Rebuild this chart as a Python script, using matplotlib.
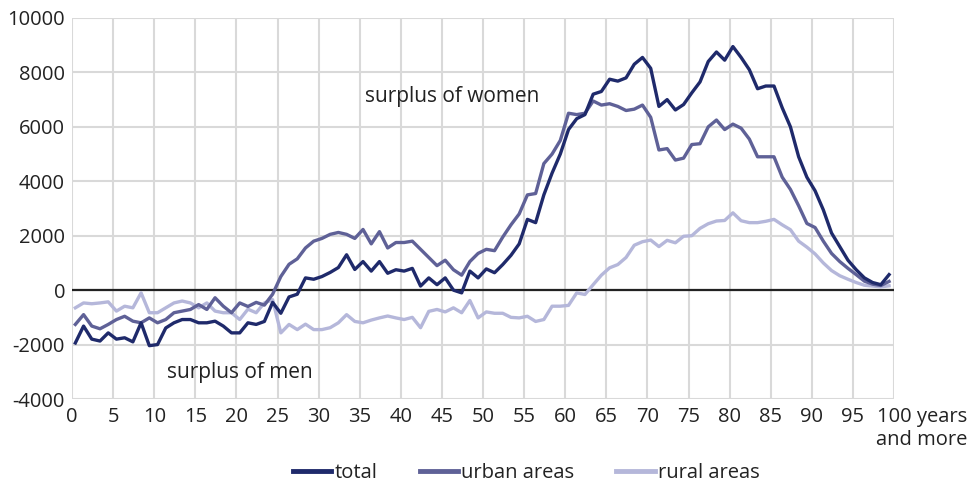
import numpy as np
import matplotlib
matplotlib.use("Agg")
import matplotlib.pyplot as plt

plt.rcParams['font.family'] = ['Open Sans', 'DejaVu Sans']

# surplus of women (+) / men (-) by single year of age
ages = np.arange(100)
total = [-1940, -1320, -1800, -1870, -1570, -1800, -1750, -1900, -1200, -2040,
         -2000, -1390, -1200, -1080, -1080, -1200, -1200, -1140, -1320, -1570,
         -1570, -1200, -1260, -1150, -450, -850, -250, -150, 450, 400,
         500, 650, 830, 1300, 760, 1050, 700, 1050, 620, 750,
         700, 800, 150, 450, 200, 450, 0, -100, 700, 450,
         780, 640, 940, 1280, 1700, 2600, 2480, 3500, 4300, 5000,
         5900, 6300, 6450, 7200, 7300, 7750, 7680, 7800, 8300, 8550,
         8150, 6750, 7000, 6620, 6820, 7250, 7650, 8400, 8750, 8450,
         8950, 8550, 8100, 7400, 7500, 7500, 6700, 6000, 4900, 4150,
         3650, 2950, 2100, 1600, 1100, 750, 450, 280, 200, 570]
urban = [-1260, -900, -1320, -1420, -1260, -1080, -960, -1140, -1200, -1020,
         -1200, -1080, -830, -770, -710, -530, -710, -280, -590, -830,
         -470, -600, -450, -550, -150, 500, 950, 1150, 1550, 1800,
         1900, 2050, 2120, 2050, 1900, 2230, 1700, 2150, 1550, 1750,
         1750, 1800, 1500, 1200, 900, 1100, 750, 550, 1050, 1350,
         1500, 1450, 1950, 2400, 2800, 3500, 3550, 4650, 5000, 5500,
         6500, 6450, 6500, 6950, 6800, 6850, 6750, 6600, 6650, 6800,
         6350, 5150, 5200, 4780, 4850, 5350, 5380, 6000, 6250, 5900,
         6100, 5950, 5550, 4900, 4900, 4900, 4150, 3700, 3100, 2450,
         2300, 1800, 1350, 1050, 800, 570, 330, 220, 170, 320]
rural = [-650, -470, -500, -470, -430, -770, -590, -650, -100, -830,
         -830, -650, -470, -400, -470, -650, -470, -770, -830, -830,
         -1080, -700, -830, -470, -350, -1570, -1260, -1450, -1250, -1450,
         -1450, -1380, -1200, -900, -1150, -1200, -1100, -1020, -950, -1020,
         -1080, -1000, -1380, -780, -710, -800, -650, -830, -380, -1020,
         -800, -850, -850, -1000, -1020, -960, -1150, -1080, -590, -590,
         -560, -100, -160, 200, 550, 820, 940, 1200, 1650, 1780,
         1840, 1600, 1830, 1740, 1980, 2000, 2270, 2440, 2540, 2560,
         2840, 2550, 2480, 2480, 2530, 2600, 2400, 2220, 1800, 1580,
         1330, 1000, 720, 530, 400, 280, 180, 150, 120, 160]

xticks = np.arange(0, 101, 5)
xlabels = [str(t) for t in xticks[:-1]] + ['']
yticks = np.arange(-4000, 10001, 2000)

c_total = '#1f2a6b'
c_urban = '#5f6197'
c_rural = '#b5b7da'
grid_c = '#d9d9d9'
text_c = '#222222'
fs = 14.5

fig = plt.figure(figsize=(9.71, 4.86), dpi=100)
ax = fig.add_axes([0.0742, 0.179, 0.8465, 0.784])

# points sit a little right of the gridlines in the original
x = ages + 0.4
ax.plot(x, rural, color=c_rural, lw=2.4, label='rural areas', zorder=3)
ax.plot(x, urban, color=c_urban, lw=2.4, label='urban areas', zorder=4)
ax.plot(x, total, color=c_total, lw=2.4, label='total', zorder=5)
ax.axhline(0, color=text_c, lw=1.6, zorder=2)

ax.set_xlim(0, 100)
ax.set_ylim(-4000, 10000)
ax.set_xticks(xticks)
ax.set_xticklabels(xlabels)
ax.set_yticks(yticks)
ax.set_yticklabels([str(t) for t in yticks])
ax.grid(True, color=grid_c, lw=1.5, zorder=0)
ax.set_axisbelow(True)
for s in ax.spines.values():
    s.set_visible(False)
ax.tick_params(length=0, labelsize=fs, colors=text_c)
ax.tick_params(axis='x', pad=6)
ax.tick_params(axis='y', pad=5)

ax.annotate('100 years\nand more', xy=(100, 0), xycoords=('data', 'axes fraction'),
            xytext=(53, -6), textcoords='offset points', ha='right', va='top',
            multialignment='right', fontsize=fs, color=text_c, linespacing=1.2)

ax.text(46.3, 7100, 'surplus of women', fontsize=15, color=text_c, ha='center', va='center')
ax.text(20.4, -3030, 'surplus of men', fontsize=15, color=text_c, ha='center', va='center')

h, l = ax.get_legend_handles_labels()
order = [2, 1, 0]
leg = fig.legend([h[i] for i in order], [l[i] for i in order], loc='center',
                 bbox_to_anchor=(0.542, 0.026), ncol=3, frameon=False, fontsize=fs,
                 handlelength=1.9, handletextpad=0.15, columnspacing=2.1,
                 borderpad=0.1)
for line in leg.get_lines():
    line.set_linewidth(3.5)
for t in leg.get_texts():
    t.set_color(text_c)

fig.savefig('out.png', dpi=100)
